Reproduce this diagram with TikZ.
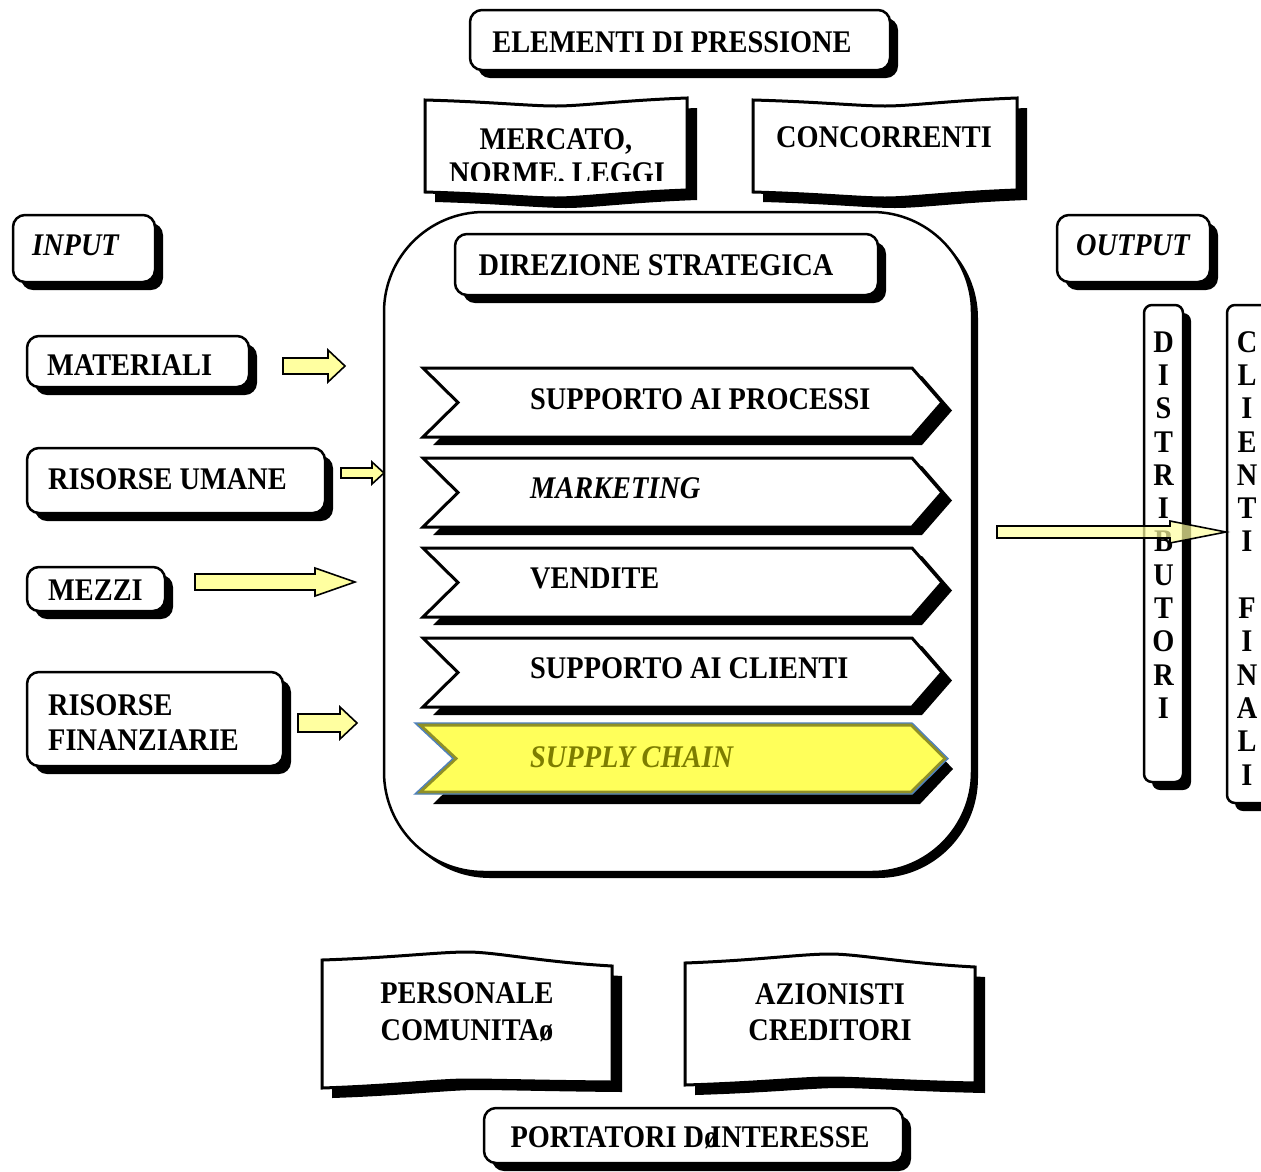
\documentclass[tikz,border=0pt]{standalone}
\usepackage{fontspec}
\setmainfont{Liberation Serif}[FakeStretch=0.9]
\definecolor{arrowyellow}{RGB}{255,255,160}
\definecolor{chainyellow}{RGB}{255,255,90}
\definecolor{chainolive}{RGB}{125,125,0}
\definecolor{chainblue}{RGB}{79,129,189}

\tikzset{
  lbl/.style={inner sep=0pt, font=\fontsize{31.5}{36}\selectfont\bfseries},
  lblit/.style={inner sep=0pt, font=\fontsize{31.5}{36}\selectfont\bfseries\itshape},
  boxline/.style={draw=black, fill=white, line width=2.5pt},
  shade/.style={fill=black},
  chevline/.style={draw=black, fill=white, line width=3pt, line join=miter},
  arrowfill/.style={draw=black, fill=arrowyellow, line width=1.6pt, line join=miter},
}

% rounded box with a black drop shadow: x1 y1 x2 y2 radius
\newcommand{\roundbox}[5]{%
  \fill[shade, rounded corners=#5pt] ({#1+8},{#2+8}) rectangle ({#3+8},{#4+8});
  \path[boxline, rounded corners=#5pt] (#1,#2) rectangle (#3,#4);}

% open-book shaped box: options, x1, x2, top (left, middle, right), bottom (left, middle, right)
\newcommand{\bookbox}[9]{%
  \path[#1] (#2,#4)
    .. controls ({#2+0.25*(#3-#2)},{#4+0.3*(#5-#4)}) and ({#2+0.4*(#3-#2)},#5) .. ({0.5*(#2+#3)},#5)
    .. controls ({#2+0.6*(#3-#2)},#5) and ({#2+0.75*(#3-#2)},{#6+0.3*(#5-#6)}) .. (#3,#6)
    -- (#3,#9)
    .. controls ({#2+0.75*(#3-#2)},{#9+0.3*(#8-#9)}) and ({#2+0.6*(#3-#2)},#8) .. ({0.5*(#2+#3)},#8)
    .. controls ({#2+0.4*(#3-#2)},#8) and ({#2+0.25*(#3-#2)},{#7+0.3*(#8-#7)}) .. (#2,#7)
    -- cycle;}

% chevron: options, left, top, bottom, body end, tip, notch depth
\newcommand{\chevshape}[7]{%
  \path[#1] (#2,#3) -- (#5,#3) -- (#6,{(#3+#4)/2}) -- (#5,#4) -- (#2,#4)
    -- ({#2+#7},{(#3+#4)/2}) -- cycle;}

% block arrow: x start, x tip, y, body half height, head half height, head start
\newcommand{\blockarrow}[7][]{%
  \path[arrowfill,#1] (#2,{#4-#5}) -- (#7,{#4-#5}) -- (#7,{#4-#6}) -- (#3,#4)
    -- (#7,{#4+#6}) -- (#7,{#4+#5}) -- (#2,{#4+#5}) -- cycle;}

\begin{document}
\begin{tikzpicture}[x=1pt,y=-1pt]
\useasboundingbox[fill=white] (0,0) rectangle (1261,1171);

% pressure elements
\roundbox{470}{10}{890}{70}{12}
\node[lbl, anchor=base] (pressione) at (672,52) {ELEMENTI DI PRESSIONE};

\bookbox{shade, shift={(10,10)}}{425}{687}{100}{106}{98}{192}{198}{190}
\bookbox{boxline, line width=3pt}{425}{687}{100}{106}{98}{192}{198}{190}
\begin{scope}
  \clip (427,102) rectangle (685,180);
  \node[lbl, anchor=base] (mercato) at (556,149) {MERCATO,};
  \node[lbl, anchor=base] (norme) at (557,183) {NORME, LEGGI};
\end{scope}

\bookbox{shade, shift={(10,10)}}{753}{1017}{100}{106}{98}{192}{198}{190}
\bookbox{boxline, line width=3pt}{753}{1017}{100}{106}{98}{192}{198}{190}
\node[lbl, anchor=base] (concorrenti) at (884,147) {CONCORRENTI};

% company block
\fill[shade, rounded corners=100pt] (390,218) rectangle (978,878);
\path[boxline, rounded corners=100pt] (384,212) rectangle (972,872);

\roundbox{455}{234}{878}{295}{12}
\node[lbl, anchor=base] (direzione) at (656,275) {DIREZIONE STRATEGICA};

% process chevrons
\foreach \t/\b in {368/437, 458/527, 548/617, 638/707}{
  \chevshape{shade}{433}{\t+8}{\b+8}{922}{952}{35}
  \chevshape{chevline}{423}{\t}{\b}{912}{942}{35}
}
\node[lbl, anchor=base west] (processi) at (530,409) {SUPPORTO AI PROCESSI};
\node[lblit, anchor=base west] (marketing) at (530,498) {MARKETING};
\node[lbl, anchor=base west] (vendite) at (530,588) {VENDITE};
\node[lbl, anchor=base west] (clienti) at (530,678) {SUPPORTO AI CLIENTI};

% supply chain chevron
\chevshape{shade}{433}{734}{804}{920}{953}{36}
\chevshape{fill=chainyellow}{415}{723}{794}{912}{948}{38}
\begin{scope}
  \clip (415,723) -- (912,723) -- (948,758.5) -- (912,794) -- (415,794) -- (453,758.5) -- cycle;
  \chevshape{draw=chainolive!85, line width=7pt, line join=miter}{415}{723}{794}{912}{948}{38}
\end{scope}
\chevshape{draw=chainblue, line width=1.4pt, line join=miter}{415}{723}{794}{912}{948}{38}
\node[lblit, anchor=base west, text=chainolive] (supply) at (530,767) {SUPPLY CHAIN};

% inputs
\roundbox{13}{215}{155}{282}{12}
\node[lblit, anchor=base west] (input) at (32,255) {INPUT};

\roundbox{27}{336}{249}{387}{12}
\node[lbl, anchor=base west] (materiali) at (47,375) {MATERIALI};
\blockarrow{283}{345}{366}{8}{16}{328}

\roundbox{27}{448}{325}{513}{12}
\node[lbl, anchor=base west] (umane) at (48,489) {RISORSE UMANE};
\blockarrow{341}{384}{473}{5}{11}{372}

\roundbox{27}{567}{165}{611}{12}
\node[lbl, anchor=base west] (mezzi) at (48,600) {MEZZI};
\blockarrow{195}{355}{582}{8}{14}{315}

\roundbox{27}{672}{283}{766}{12}
\node[lbl, anchor=base west] (risorse) at (48,715) {RISORSE};
\node[lbl, anchor=base west] (finanziarie) at (48,750) {FINANZIARIE};
\blockarrow{298}{357}{723}{9}{16}{340}

% outputs
\roundbox{1057}{215}{1210}{282}{12}
\node[lblit, anchor=base west] (output) at (1076,255) {OUTPUT};

\roundbox{1144}{305}{1183}{782}{8}
\foreach \ch [count=\i] in {D,I,S,T,R,I,B,U,T,O,R,I}
  \node[lbl, anchor=base] (dist\i) at (1163.5,{352+33.33*(\i-1)}) {\ch};

\roundbox{1227}{305}{1300}{803}{8}
\foreach \ch [count=\i] in {C,L,I,E,N,T,I,{},F,I,N,A,L,I}
  \node[lbl, anchor=base] (cli\i) at (1247,{352+33.33*(\i-1)}) {\ch};

\blockarrow[fill opacity=0.7]{997}{1226}{532}{6}{11}{1170}

% stakeholders
\bookbox{shade, shift={(10,10)}}{322}{612}{960}{952}{966}{1088}{1080}{1082}
\bookbox{boxline, line width=3pt}{322}{612}{960}{952}{966}{1088}{1080}{1082}
\node[lbl, anchor=base] (personale) at (467,1003) {PERSONALE};
\node[lbl, anchor=base] (comunita) at (467,1040) {COMUNITAø};

\bookbox{shade, shift={(10,10)}}{685}{975}{963}{954}{967}{1085}{1078}{1083}
\bookbox{boxline, line width=3pt}{685}{975}{963}{954}{967}{1085}{1078}{1083}
\node[lbl, anchor=base] (azionisti) at (830,1004) {AZIONISTI};
\node[lbl, anchor=base] (creditori) at (830,1040) {CREDITORI};

\roundbox{484}{1108}{903}{1163}{12}
\node[lbl, anchor=base] (portatori) at (690,1147) {PORTATORI Dø\kern-8pt INTERESSE};
\end{tikzpicture}
\end{document}
